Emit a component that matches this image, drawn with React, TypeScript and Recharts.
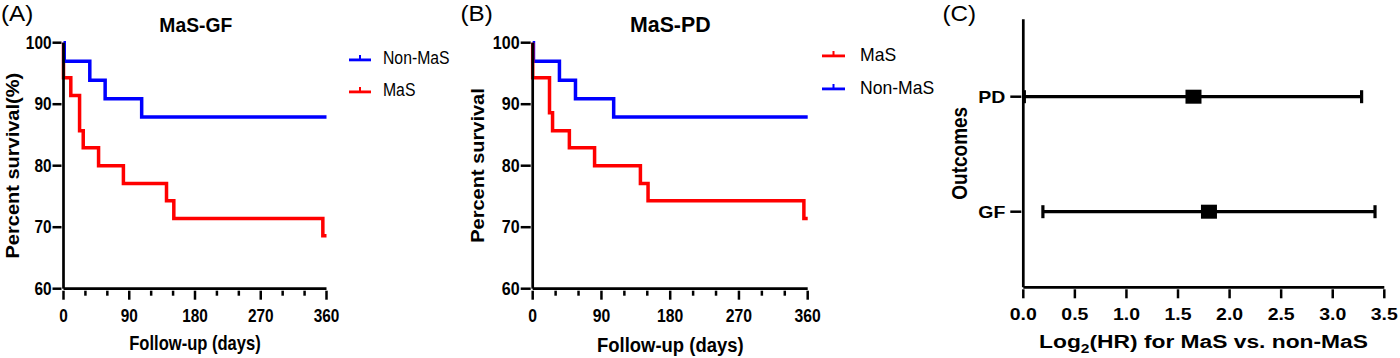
import { LineChart, Line, XAxis, YAxis, Legend, ScatterChart, Scatter, ErrorBar } from "recharts"

const FONT = "'Liberation Sans', Arial, Helvetica, sans-serif"
const RED = "#ff0000"
const BLUE = "#0000ff"
const AXIS = { stroke: "#000", strokeWidth: 2.7 }

// Kaplan-Meier, graft failure (day of each step, survival after the step)
const nonMasGfDays = [0, 1, 36, 57, 107, 360]
const nonMasGfSurv = [100, 97.0, 93.9, 90.9, 87.9, 87.9]
const masGfDays = [0, 0, 10, 22, 27, 48, 82, 141, 151, 355, 360]
const masGfSurv = [100, 94.3, 91.4, 85.7, 82.9, 80.0, 77.1, 74.3, 71.4, 68.6, 68.6]

// Kaplan-Meier, progressive disease
const nonMasPdDays = [0, 1, 35, 56, 106, 360]
const nonMasPdSurv = [100, 97.0, 93.9, 90.9, 87.9, 87.9]
const masPdDays = [0, 0, 22, 26, 48, 81, 141, 151, 355, 360]
const masPdSurv = [100, 94.3, 88.6, 85.7, 82.9, 80.0, 77.1, 74.3, 71.4, 71.4]

const dayTicks = [0, 30, 60, 90, 120, 150, 180, 210, 240, 270, 300, 330, 360]
const pctTicks = [60, 70, 80, 90, 100]

// forest plot
const outcomes = ["GF", "PD"]
const log2Hr = [1.8, 1.65]
const ciLow = [0.19, 0.01]
const ciHigh = [3.41, 3.28]
const hrTicks = [0, 0.5, 1, 1.5, 2, 2.5, 3, 3.5]

const toPoints = (days: number[], surv: number[]) => days.map((t, i) => ({ t, s: surv[i] }))

const forestRows = outcomes.map((name, i) => ({
  name,
  hr: log2Hr[i],
  err: [log2Hr[i] - ciLow[i], ciHigh[i] - log2Hr[i]],
}))

function Txt({ x, y, size, weight = 700, sx = 1, rotate = 0, anchor = "middle", children }: any) {
  let t = `translate(${x},${y})`
  if (sx !== 1) t += ` scale(${sx},1)`
  if (rotate) t += ` rotate(${rotate})`
  return (
    <text transform={t} textAnchor={anchor} fontFamily={FONT} fontSize={size} fontWeight={weight} fill="#000">
      {children}
    </text>
  )
}

function dayTick(size: number, sx: number) {
  return (p: any) => {
    const major = p.payload.value % 90 === 0
    return (
      <g>
        <line x1={p.x} x2={p.x} y1={p.y} y2={p.y + (major ? 9 : 5)} stroke="#000" strokeWidth={2.5} />
        {major && <Txt x={p.x} y={p.y + 31} size={size} sx={sx}>{p.payload.value}</Txt>}
      </g>
    )
  }
}

function pctTick(size: number, sx: number, len: number) {
  return (p: any) => (
    <g>
      <line x1={p.x - len} x2={p.x} y1={p.y} y2={p.y} stroke="#000" strokeWidth={2.5} />
      <Txt x={p.x - len - 1} y={p.y + 6} size={size} sx={sx} anchor="end">{p.payload.value}</Txt>
    </g>
  )
}

function KmLegend({ names, colors, fontSize, sx, rowH, iconW, gap }: any) {
  return (
    <div>
      {names.map((n: string, i: number) => (
        <div key={n} style={{ display: "flex", alignItems: "center", height: rowH }}>
          <svg width={iconW} height={12}>
            <rect x={0} y={5.5} width={iconW} height={2.8} fill={colors[i]} />
            <rect x={iconW / 2 - 1} y={2} width={2} height={4} fill={colors[i]} />
          </svg>
          <span style={{
            marginLeft: gap, fontFamily: FONT, fontSize, color: "#000", lineHeight: 1, whiteSpace: "nowrap",
            display: "inline-block", transform: `scaleX(${sx})`, transformOrigin: "left center",
          }}>{n}</span>
        </div>
      ))}
    </div>
  )
}

function PanelA() {
  return (
    <LineChart width={470} height={358} margin={{ top: 42.7, right: 143.5, bottom: 0, left: 0 }}>
      <XAxis type="number" dataKey="t" domain={[0, 360]} ticks={dayTicks} interval={0} height={69.3}
        tick={dayTick(17.5, 0.88)} tickSize={0} tickLine={false} axisLine={AXIS} />
      <YAxis type="number" domain={[60, 100]} ticks={pctTicks} interval={0} width={63.5}
        tick={pctTick(17.5, 0.88, 9)} tickSize={0} tickLine={false} axisLine={AXIS} />
      <Line data={toPoints(masGfDays, masGfSurv)} dataKey="s" type="stepAfter" stroke={RED} strokeWidth={3.5} dot={false} isAnimationActive={false} />
      <Line data={toPoints(nonMasGfDays, nonMasGfSurv)} dataKey="s" type="stepAfter" stroke={BLUE} strokeWidth={3.5} dot={false} isAnimationActive={false} />
      <Legend layout="vertical" align="center" verticalAlign="middle" wrapperStyle={{ left: 349, top: 43, width: 120 }}
        content={() => <KmLegend names={["Non-MaS", "MaS"]} colors={[BLUE, RED]} fontSize={17.5} sx={0.9} rowH={32} iconW={22} gap={11.5} />} />
    </LineChart>
  )
}

function PanelB() {
  return (
    <LineChart width={480} height={358} margin={{ top: 42.7, right: 132.3, bottom: 0, left: 0 }}>
      <XAxis type="number" dataKey="t" domain={[0, 360]} ticks={dayTicks} interval={0} height={69.3}
        tick={dayTick(17.5, 0.9)} tickSize={0} tickLine={false} axisLine={AXIS} />
      <YAxis type="number" domain={[60, 100]} ticks={pctTicks} interval={0} width={72.7}
        tick={pctTick(17.5, 0.92, 10)} tickSize={0} tickLine={false} axisLine={AXIS} />
      <Line data={toPoints(nonMasPdDays, nonMasPdSurv)} dataKey="s" type="stepAfter" stroke={BLUE} strokeWidth={3.5} dot={false} isAnimationActive={false} />
      <Line data={toPoints(masPdDays, masPdSurv)} dataKey="s" type="stepAfter" stroke={RED} strokeWidth={3.5} dot={false} isAnimationActive={false} />
      <Legend layout="vertical" align="center" verticalAlign="middle" wrapperStyle={{ left: 362, top: 38.5, width: 118 }}
        content={() => <KmLegend names={["MaS", "Non-MaS"]} colors={[RED, BLUE]} fontSize={18.5} sx={0.95} rowH={33} iconW={23} gap={15} />} />
    </LineChart>
  )
}

function PanelC() {
  return (
    <ScatterChart width={460} height={358} margin={{ top: 19.3, right: 15.7, bottom: 0, left: 0 }}>
      <XAxis type="number" dataKey="hr" domain={[0, 3.5]} ticks={hrTicks} interval={0} height={70.7}
        tickSize={0} tickLine={false} axisLine={AXIS}
        tick={(p: any) => (
          <g>
            <line x1={p.x} x2={p.x} y1={p.y} y2={p.y + 9} stroke="#000" strokeWidth={2.5} />
            <Txt x={p.x} y={p.y + 30.7} size={16.5} sx={1.18}>{Number(p.payload.value).toFixed(1)}</Txt>
          </g>
        )} />
      <YAxis type="category" dataKey="name" width={83.3} padding={{ top: 19.9, bottom: 18.1 }}
        tickSize={0} tickLine={false} axisLine={AXIS}
        tick={(p: any) => (
          <g>
            <line x1={p.x - 11} x2={p.x} y1={p.y} y2={p.y} stroke="#000" strokeWidth={2.5} />
            <Txt x={p.x - 16} y={p.y + 5.8} size={16.5} sx={1.18} anchor="end">{p.payload.value}</Txt>
          </g>
        )} />
      <Scatter data={forestRows} isAnimationActive={false}
        shape={(p: any) => <rect x={p.cx - 8} y={p.cy - 7} width={16} height={14} fill="#000" />}>
        <ErrorBar dataKey="err" direction="x" width={6.5} stroke="#000" strokeWidth={3.2} isAnimationActive={false} />
      </Scatter>
    </ScatterChart>
  )
}

export default function App() {
  return (
    <div style={{ position: "absolute", left: 0, top: 0, width: 1400, height: 358, background: "#fff" }}>
      <div style={{ position: "absolute", left: 0, top: 0 }}><PanelA /></div>
      <div style={{ position: "absolute", left: 460, top: 0 }}><PanelB /></div>
      <div style={{ position: "absolute", left: 940, top: 0 }}><PanelC /></div>
      <svg width={1400} height={358} style={{ position: "absolute", left: 0, top: 0, pointerEvents: "none" }}>
        <Txt x={1} y={21} size={22} weight={400} sx={1.1} anchor="start">(A)</Txt>
        <Txt x={460.5} y={21} size={22} weight={400} sx={1.1} anchor="start">(B)</Txt>
        <Txt x={942.5} y={21} size={22} weight={400} sx={1.1} anchor="start">(C)</Txt>

        <Txt x={195.8} y={31.5} size={21} sx={0.92}>MaS-GF</Txt>
        <Txt x={670.3} y={31.5} size={22} sx={0.97}>MaS-PD</Txt>

        <Txt x={19} y={165.7} size={20} sx={0.9} rotate={-90}>Percent survival(%)</Txt>
        <Txt x={483.5} y={165.5} size={20} sx={0.95} rotate={-90}>Percent survival</Txt>
        <Txt x={966.5} y={153.3} size={19} sx={1.2} rotate={-90}>Outcomes</Txt>

        <Txt x={195} y={350} size={19.5} sx={0.85}>Follow-up (days)</Txt>
        <Txt x={670.3} y={352} size={20.5} sx={0.9}>Follow-up (days)</Txt>
        <Txt x={1203.5} y={347.5} size={19} sx={1.2}>
          Log<tspan dy={5} fontSize={13}>2</tspan><tspan dy={-5}>(HR) for MaS vs. non-MaS</tspan>
        </Txt>
      </svg>
    </div>
  )
}
